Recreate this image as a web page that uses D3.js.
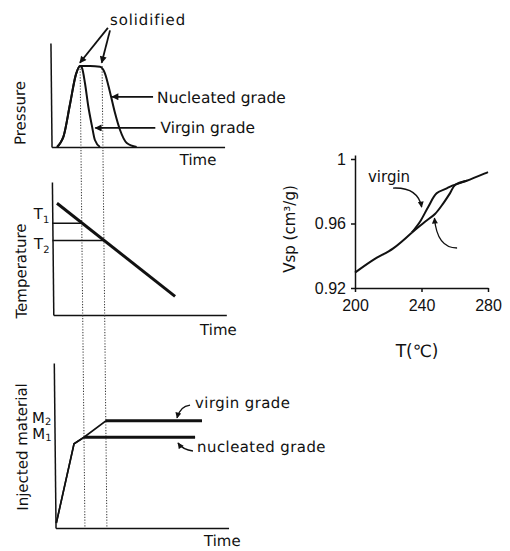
<!DOCTYPE html>
<html lang="en">
<head>
<meta charset="UTF-8">
<title>Solidification of virgin and nucleated grades</title>
<script src="https://d3js.org/d3.v7.min.js"></script>
<style>
  body { margin: 0; background: #fff; }
  svg { display: block; }
  text { font-family: "DejaVu Sans", sans-serif; fill: #111; }
  .num { font-family: "Liberation Sans", Arial, sans-serif; }
  .axis path, .axis line { stroke: #111; stroke-width: 1.5; }
</style>
</head>
<body>
<svg width="510" height="551"></svg>
<script>
// time runs 0..100 on the three left panels
const solidTimes = [17, 29.7];   // virgin, nucleated
const pressureVirgin = [[3.2,0],[5.1,0.05],[6.9,0.125],[10.9,0.525],[14.6,0.9],[17,1],[18.1,0.975],[19.7,0.79],[21.5,0.5],[23.4,0.27],[25.1,0.086],[28,0]];
const pressureNucleated = [[3.2,0],[5.1,0.05],[6.9,0.125],[10.9,0.525],[14.6,0.9],[17,1],[22.7,1],[28.5,0.99],[30.2,0.96],[31.3,0.91],[34.2,0.67],[36.9,0.42],[39.7,0.21],[43.5,0.05],[49.2,0]];
const tempLine = [[2.8,84],[70.5,14]];
const tempLevels = [["1",17,69],["2",29.7,56]];
const injectedVirgin = [[0.5,3],[11.2,51],[17,55],[29.8,65],[85.3,65]];
const injectedNucleated = [[0.5,3],[11.2,51],[17,55],[81.2,55]];
const massLevels = [["2",65],["1",55]];

// specific volume vs melt temperature
const vspCommon = [[200,0.9295],[211,0.9374],[223,0.9446],[234.1,0.9543]];
const vspVirgin = [[234.1,0.9543],[239.1,0.9611],[244.1,0.9704],[249.1,0.9787],[255.2,0.9818],[258.2,0.9833],[267.2,0.9865],[278.2,0.9911],[280,0.9919]];
const vspNucleated = [[234.1,0.9543],[242.1,0.9611],[248.1,0.9659],[253.1,0.9725],[257.1,0.9787],[260.2,0.9839],[267.2,0.9865]];
const vspTicksX = [200, 240, 280];
const vspTicksY = [0.92, 0.96, 1];

// annotation anchors, in each panel's own units
const solidArrows = [[[33.3,1.47],[16.9,1.04]], [[34.5,1.44],[29.5,1.04]]];
const pressureNotes = [
  {text: "Nucleated grade", from: [59,0.62], to: [35.3,0.62], at: [61.3,0.54]},
  {text: "Virgin grade", from: [60.1,0.235], to: [25.4,0.235], at: [63,0.17]}
];
const injectedNotes = [
  {text: "virgin grade", path: [[78.5,74.5],[72.7,73.9],[70.9,66.7]], at: [81.4,72.7]},
  {text: "nucleated grade", path: [[79.9,46.7],[74.2,47.3],[71.3,51.5]], at: [82.3,46]}
];
const timeLabelAt = [74, 84.7, 85.7];
const vspArrows = [[[222.9,0.982],[237.9,0.9826],[240.1,0.9702]], [[261.4,0.9448],[249.3,0.9448],[247.8,0.9634]]];

const svg = d3.select("svg");
svg.append("rect").attr("width", 510).attr("height", 551).attr("fill", "#fff");

const defs = svg.append("defs");
function marker(id, w, h) {
  defs.append("marker").attr("id", id)
    .attr("viewBox", "0 0 10 10").attr("refX", 9).attr("refY", 5)
    .attr("markerWidth", w).attr("markerHeight", h)
    .attr("markerUnits", "userSpaceOnUse").attr("orient", "auto")
    .append("path").attr("d", "M0,0L10,5L0,10z").attr("fill", "#111");
}
marker("head", 10, 7);
marker("headSm", 7, 6);

// the scan leans a little, so the left column is sheared
const left = svg.append("g").attr("transform", "skewX(0.6)");

const x = d3.scaleLinear().domain([0, 100]).range([50, 223]);
const yP = d3.scaleLinear().domain([0, 1]).range([147, 66]);
const yT = d3.scaleLinear().domain([0, 100]).range([315, 182]);
const yM = d3.scaleLinear().domain([0, 100]).range([528, 363]);

function frame(y, topPx) {
  left.append("g").attr("class", "axis")
    .attr("transform", `translate(${x(0)},0)`)
    .call(d3.axisLeft(d3.scaleLinear().range([y(0), topPx])).tickValues([]).tickSizeOuter(0));
  left.append("g").attr("class", "axis")
    .attr("transform", `translate(0,${y(0)})`)
    .call(d3.axisBottom(x).tickValues([]).tickSizeOuter(0));
}
frame(yP, 43);
frame(yT, 182);
frame(yM, 363);

// dotted guides at the two solidification times
left.selectAll(".guide").data(solidTimes).enter().append("line")
  .attr("x1", d => x(d)).attr("x2", d => x(d))
  .attr("y1", yP(1)).attr("y2", yM(0))
  .attr("stroke", "#333").attr("stroke-width", 1).attr("stroke-dasharray", "1.2,1.6");

// pressure
const pLine = d3.line().x(d => x(d[0])).y(d => yP(d[1])).curve(d3.curveMonotoneX);
[pressureVirgin, pressureNucleated].forEach(s => {
  left.append("path").attr("d", pLine(s)).attr("fill", "none")
    .attr("stroke", "#111").attr("stroke-width", 2);
});

// temperature
left.append("line")
  .attr("x1", x(tempLine[0][0])).attr("y1", yT(tempLine[0][1]))
  .attr("x2", x(tempLine[1][0])).attr("y2", yT(tempLine[1][1]))
  .attr("stroke", "#111").attr("stroke-width", 3);
left.selectAll(".tlev").data(tempLevels).enter().append("line")
  .attr("x1", x(0)).attr("x2", d => x(d[1]))
  .attr("y1", d => yT(d[2])).attr("y2", d => yT(d[2]))
  .attr("stroke", "#111").attr("stroke-width", 1.3);
tempLevels.forEach((d, i) => {
  const t = left.append("text").attr("x", x(0) - 3)
    .attr("y", yT(d[2]) + (i === 0 ? -4 : 8))
    .attr("text-anchor", "end").attr("font-size", 15);
  t.append("tspan").text("T");
  t.append("tspan").attr("font-size", 10).attr("dy", 4).text(d[0]);
});

// injected material
const mLine = d3.line().x(d => x(d[0])).y(d => yM(d[1]));
[injectedVirgin, injectedNucleated].forEach(s => {
  left.append("path").attr("d", mLine(s)).attr("fill", "none")
    .attr("stroke", "#111").attr("stroke-width", 1.6);
  left.append("path").attr("d", mLine(s.slice(-2))).attr("fill", "none")
    .attr("stroke", "#111").attr("stroke-width", 3.2);
});
massLevels.forEach(d => {
  const t = left.append("text").attr("x", x(0) - 3).attr("y", yM(d[1]) + 2)
    .attr("text-anchor", "end").attr("font-size", 15);
  t.append("tspan").text("M");
  t.append("tspan").attr("font-size", 10).attr("dy", 2).text(d[0]);
});

// axis titles of the left column
[["Pressure", 20, 113], ["Temperature", 21, 271], ["Injected material", 22, 447]].forEach(d => {
  left.append("text").attr("transform", `translate(${d[1] - d[2] * Math.tan(0.6 * Math.PI / 180)},${d[2]}) rotate(-90)`)
    .attr("text-anchor", "middle").attr("dy", "0.35em").attr("font-size", 15).text(d[0]);
});
[yP(0) + 18, yT(0) + 20, yM(0) + 18].forEach((yy, i) => {
  left.append("text").attr("x", x(timeLabelAt[i])).attr("y", yy)
    .attr("font-size", 15).text("Time");
});

// pressure annotations
left.append("text").attr("x", x(34.5)).attr("y", yP(1.506))
  .attr("font-size", 15).attr("letter-spacing", 0.9).text("solidified");
solidArrows.forEach(a => {
  left.append("line")
    .attr("x1", x(a[0][0])).attr("y1", yP(a[0][1]))
    .attr("x2", x(a[1][0])).attr("y2", yP(a[1][1]))
    .attr("stroke", "#111").attr("stroke-width", 1.8).attr("marker-end", "url(#head)");
});
pressureNotes.forEach(n => {
  left.append("line")
    .attr("x1", x(n.from[0])).attr("y1", yP(n.from[1]))
    .attr("x2", x(n.to[0])).attr("y2", yP(n.to[1]))
    .attr("stroke", "#111").attr("stroke-width", 1.8).attr("marker-end", "url(#head)");
  left.append("text").attr("x", x(n.at[0])).attr("y", yP(n.at[1]))
    .attr("font-size", 15.5).text(n.text);
});

// injected annotations
injectedNotes.forEach(n => {
  const p = d3.path();
  p.moveTo(x(n.path[0][0]), yM(n.path[0][1]));
  p.quadraticCurveTo(x(n.path[1][0]), yM(n.path[1][1]), x(n.path[2][0]), yM(n.path[2][1]));
  left.append("path").attr("d", p.toString()).attr("fill", "none")
    .attr("stroke", "#111").attr("stroke-width", 1.4).attr("marker-end", "url(#headSm)");
  left.append("text").attr("x", x(n.at[0])).attr("y", yM(n.at[1]))
    .attr("font-size", 15).attr("letter-spacing", 0.4).text(n.text);
});

// right chart: Vsp vs T
const vx = d3.scaleLinear().domain([200, 280]).range([355, 488]);
const vy = d3.scaleLinear().domain([0.92, 1]).range([288, 159]);
const right = svg.append("g");

right.append("g").attr("class", "axis").attr("transform", `translate(${vx(200)},0)`)
  .call(d3.axisLeft(vy.copy().domain([0.92, vy.invert(155)]).range([288, 155]))
    .tickValues(vspTicksY).tickSize(4).tickSizeOuter(0).tickPadding(5)
    .tickFormat(d => d === 1 ? "1" : d3.format(".2f")(d)));
right.append("g").attr("class", "axis").attr("transform", `translate(0,${vy(0.92)})`)
  .call(d3.axisBottom(vx).tickValues(vspTicksX).tickSize(4).tickSizeOuter(0).tickPadding(8));
right.selectAll(".axis text").attr("class", "num").attr("font-size", 16)
  .attr("font-family", "Liberation Sans, Arial, sans-serif").attr("fill", "#111");

const vLine = d3.line().x(d => vx(d[0])).y(d => vy(d[1])).curve(d3.curveCatmullRom);
[vspCommon, vspVirgin, vspNucleated].forEach(s => {
  right.append("path").attr("d", vLine(s)).attr("fill", "none")
    .attr("stroke", "#111").attr("stroke-width", 2);
});

vspArrows.forEach(a => {
  const p = d3.path();
  p.moveTo(vx(a[0][0]), vy(a[0][1]));
  p.quadraticCurveTo(vx(a[1][0]), vy(a[1][1]), vx(a[2][0]), vy(a[2][1]));
  right.append("path").attr("d", p.toString()).attr("fill", "none")
    .attr("stroke", "#111").attr("stroke-width", 1.3).attr("marker-end", "url(#headSm)");
});
right.append("text").attr("x", vx(207.8)).attr("y", vy(0.9857))
  .attr("font-size", 15).text("virgin");

right.append("text").attr("x", 417).attr("y", 357)
  .attr("text-anchor", "middle").attr("font-size", 17).text("T(\u2103)");
right.append("text").attr("transform", "translate(290,229) rotate(-90)")
  .attr("text-anchor", "middle").attr("dy", "0.35em").attr("font-size", 15)
  .text("Vsp (cm\u00b3/g)");
</script>
</body>
</html>
